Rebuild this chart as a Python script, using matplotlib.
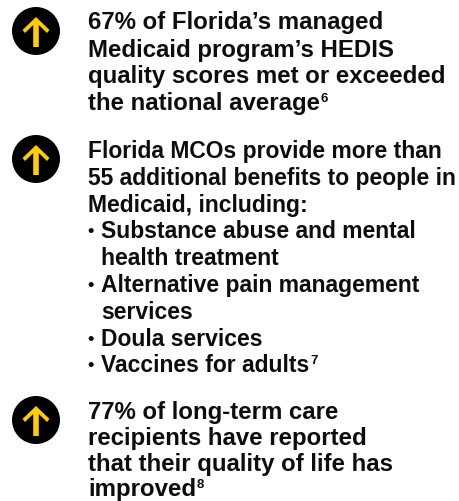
import matplotlib
matplotlib.use("Agg")
import matplotlib.pyplot as plt
from matplotlib.patches import Circle, Polygon

W, H = 460, 501
FONT = "Liberation Sans"
INK = "#0d0d0d"

block_one = [
    ("67% of Florida’s managed", 88, 29),
    ("Medicaid program’s HEDIS", 88, 56.5),
    ("quality scores met or exceeded", 88, 83),
    ("the national average", 88, 110),
]
block_two = [
    ("Florida MCOs provide more than", 88, 158),
    ("55 additional benefits to people in", 88, 185),
    ("Medicaid, including:", 88, 212),
    ("Substance abuse and mental", 101.5, 238),
    ("health treatment", 101.5, 265),
    ("Alternative pain management", 101.5, 292),
    ("services", 101.5, 319),
    ("Doula services", 101.5, 346),
    ("Vaccines for adults", 101.5, 372),
]
block_three = [
    ("77% of long-term care", 88, 419),
    ("recipients have reported", 88, 445),
    ("that their quality of life has", 88, 471),
    ("improved", 88, 496),
]
bullet_y = [238, 292, 346, 372]
superscripts = {"the national average": "6", "Vaccines for adults": "7", "improved": "8"}
icon_y = [31, 159, 420]

fig = plt.figure(figsize=(W/100, H/100), dpi=100)
ax = fig.add_axes([0, 0, 1, 1])
ax.set_xlim(0, W); ax.set_ylim(H, 0); ax.axis("off")
for cy in icon_y:
    ax.add_patch(Circle((36, cy), 24, color="black", lw=0))
    ax.add_patch(Polygon([(36, cy-14), (49.5, cy-1), (47, cy+2), (38.8, cy-6), (38.8, cy+16),
                          (33.2, cy+16), (33.2, cy-6), (25, cy+2), (22.5, cy-1)], color="#FFCC00", lw=0))
fig.canvas.draw()
rend = fig.canvas.get_renderer()
for block, size in ((block_one, 17.3), (block_two, 16.5), (block_three, 17.3)):
    for s, x, y in block:
        t = ax.text(x, y, s, fontsize=size, fontweight="bold", family=FONT, va="baseline", ha="left", color=INK)
        if s in superscripts:
            bb = t.get_window_extent(rend)
            ax.text(bb.x1 + 0.5, y - 8, superscripts[s], fontsize=9.5, fontweight="bold", family=FONT,
                    va="baseline", ha="left", color=INK)
for y in bullet_y:
    ax.text(91, y - 2, "•", fontsize=13, fontweight="bold", family=FONT, va="baseline", ha="center", color=INK)
fig.savefig("out.png", dpi=100)
